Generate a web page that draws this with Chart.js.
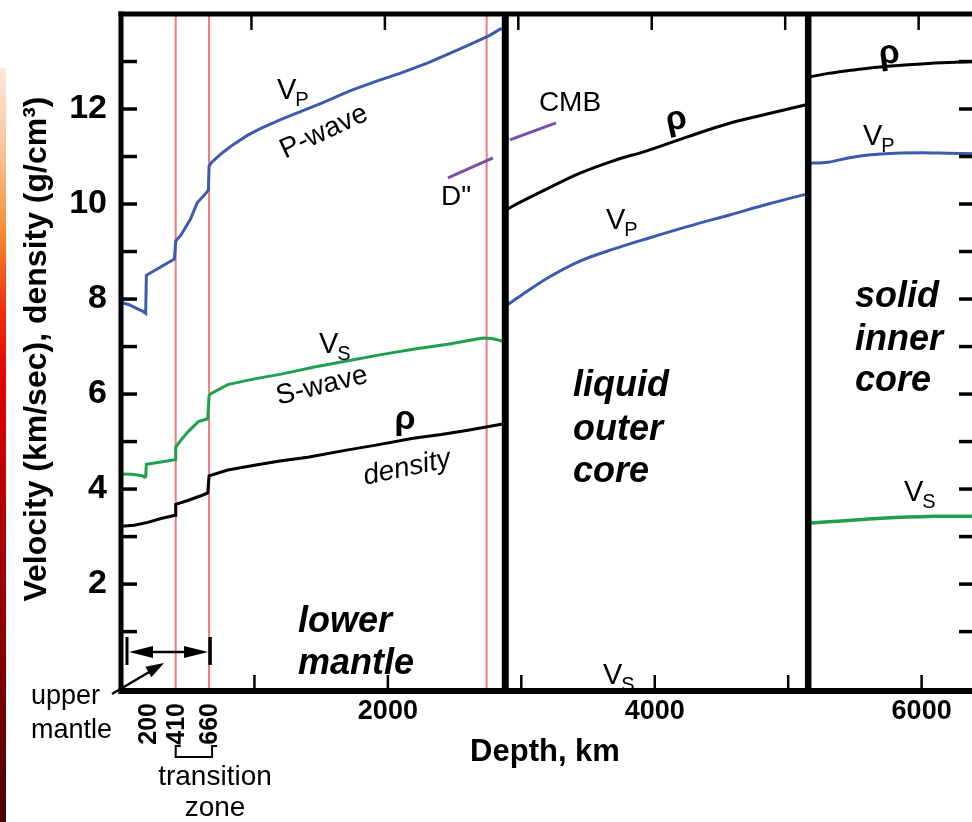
<!DOCTYPE html>
<html>
<head>
<meta charset="utf-8">
<script src="https://cdn.jsdelivr.net/npm/chart.js@4.4.0/dist/chart.umd.min.js"></script>
<style>
  html, body { margin: 0; padding: 0; background: #fff; overflow: hidden; width: 972px; height: 822px; }
  #wrap { position: relative; width: 972px; height: 822px; overflow: hidden; }
  #strip { position: absolute; left: 0; top: 68px; width: 6px; height: 754px; z-index: 2;
    background: linear-gradient(#fbe9df 0%, #f8c090 12%, #f58a30 22%, #f03010 32%, #e00000 42%, #b00000 60%, #800000 80%, #4a0505 100%); }
  canvas { position: absolute; left: 0; top: 0; }
</style>
</head>
<body>
<div id="wrap">
  <div id="strip"></div>
  <canvas id="earth" width="980" height="822"></canvas>
</div>
<script>
// depth in km, velocity in km/s, density in g/cm3

// crust + upper mantle + lower mantle
const vpMantleDepth = [0, 60, 120, 165, 185, 190, 300, 400, 410, 450, 520, 570, 640, 655, 660, 680, 760, 840, 950, 1040, 1200, 1340, 1500, 1715, 1900, 2090, 2300, 2464, 2600, 2764, 2840, 2880];
const vpMantle      = [7.93, 7.88, 7.80, 7.74, 7.70, 8.50, 8.68, 8.84, 9.22, 9.35, 9.68, 10.02, 10.24, 10.30, 10.80, 10.88, 11.08, 11.25, 11.45, 11.58, 11.78, 11.94, 12.12, 12.38, 12.57, 12.75, 12.97, 13.17, 13.34, 13.55, 13.68, 13.70];

const vsMantleDepth = [0, 80, 160, 175, 185, 190, 300, 405, 410, 440, 500, 580, 650, 660, 680, 800, 1000, 1200, 1450, 1700, 1950, 2200, 2450, 2710, 2780, 2880];
const vsMantle      = [4.32, 4.31, 4.28, 4.25, 4.26, 4.52, 4.57, 4.62, 4.88, 5.00, 5.20, 5.42, 5.48, 5.97, 6.02, 6.20, 6.32, 6.42, 6.57, 6.70, 6.83, 6.95, 7.05, 7.18, 7.17, 7.10];

const rhoMantleDepth = [0, 100, 200, 300, 405, 410, 500, 600, 650, 660, 800, 1000, 1190, 1400, 1690, 1900, 2190, 2400, 2600, 2840, 2880];
const rhoMantle      = [3.22, 3.24, 3.30, 3.38, 3.45, 3.68, 3.76, 3.86, 3.92, 4.28, 4.40, 4.50, 4.59, 4.67, 4.82, 4.92, 5.07, 5.15, 5.24, 5.36, 5.38];

// liquid outer core
const outerDepth = [2880, 3000, 3200, 3440, 3700, 3940, 4250, 4560, 4850, 5150];
const rhoOuter   = [9.87, 10.05, 10.33, 10.65, 10.92, 11.12, 11.42, 11.70, 11.90, 12.10];
const vpOuter    = [7.85, 8.08, 8.45, 8.80, 9.06, 9.27, 9.53, 9.77, 10.00, 10.22];

// solid inner core
const innerDepth = [5150, 5300, 5450, 5600, 5800, 6000, 6200, 6400];
const rhoInner   = [12.67, 12.75, 12.81, 12.86, 12.91, 12.95, 12.98, 13.00];
const vpInner    = [10.86, 10.88, 10.97, 11.03, 11.07, 11.08, 11.07, 11.06];
const vsInner    = [3.28, 3.31, 3.34, 3.37, 3.40, 3.42, 3.43, 3.43];

// boundaries and markers
const coreBoundaries = [2880, 5150];          // CMB, ICB
const redLineDepths = [410, 660, 2740];       // 410, 660, top of D''
const dPointerDepth = [2450, 2788];
const dPointerVal   = [10.55, 10.97];
const cmbPointerDepth = [2915, 3260];
const cmbPointerVal   = [11.35, 11.71];

// axes
const depthMin = 0, depthMax = 6400;
const valMin = -0.25, valMax = 14;
const yTickValues = [1, 2, 3, 4, 5, 6, 7, 8, 9, 10, 11, 12, 13];
const yTickLabels = [2, 4, 6, 8, 10, 12];
const xTickValues = [1000, 2000, 3000, 4000, 5000, 6000];
const xTickLabels = [2000, 4000, 6000];
const xExtraLabels = [200, 410, 660];

const BLUE = '#3d5aab', GREEN = '#1f9f4f', BLACK = '#000', RED = '#ef7b7b', PURPLE = '#7b4fa3';
const FONT = '"Liberation Sans", Arial, Helvetica, sans-serif';

function pts(depths, vals) {
  return depths.map((d, i) => ({ x: d, y: vals[i] }));
}

function curve(label, depths, vals, color, width, order, tension) {
  return {
    label: label,
    data: pts(depths, vals),
    borderColor: color,
    borderWidth: width,
    pointRadius: 0,
    showLine: true,
    fill: false,
    tension: tension || 0,
    order: order
  };
}

function vertical(label, depth, color, width, order) {
  return curve(label, [depth, depth], [valMin, valMax], color, width, order);
}

let datasets = [];
redLineDepths.forEach(d => datasets.push(vertical('marker ' + d, d, RED, 2, 20)));
datasets.push(curve('Vp mantle', vpMantleDepth, vpMantle, BLUE, 3, 10));
datasets.push(curve('Vs mantle', vsMantleDepth, vsMantle, GREEN, 3, 10));
datasets.push(curve('rho mantle', rhoMantleDepth, rhoMantle, BLACK, 3, 10));
datasets.push(curve('rho outer', outerDepth, rhoOuter, BLACK, 3, 10, 0.35));
datasets.push(curve('Vp outer', outerDepth, vpOuter, BLUE, 3, 10, 0.35));
datasets.push(curve('rho inner', innerDepth, rhoInner, BLACK, 3, 10, 0.35));
datasets.push(curve('Vp inner', innerDepth, vpInner, BLUE, 3, 10, 0.35));
datasets.push(curve('Vs inner', innerDepth, vsInner, GREEN, 3.5, 10, 0.35));
datasets.push(curve('D" pointer', dPointerDepth, dPointerVal, PURPLE, 3, 10));
datasets.push(curve('CMB pointer', cmbPointerDepth, cmbPointerVal, PURPLE, 3, 10));
datasets.push(vertical('CMB', coreBoundaries[0], BLACK, 7, 0));
datasets.push(vertical('ICB', coreBoundaries[1], BLACK, 6.5, 0));

function text(c, s, x, y, font, align, angle) {
  c.save();
  c.font = font;
  c.fillStyle = '#000';
  c.textAlign = align || 'center';
  c.textBaseline = 'middle';
  c.translate(x, y);
  if (angle) c.rotate(angle * Math.PI / 180);
  c.fillText(s, 0, 0);
  c.restore();
}

// "V" with a subscript, x/y = left edge and baseline of the V
function vsub(c, sub, x, y) {
  c.save();
  c.fillStyle = '#000';
  c.textAlign = 'left';
  c.textBaseline = 'alphabetic';
  c.font = '29px ' + FONT;
  c.fillText('V', x, y);
  const w = c.measureText('V').width;
  c.font = '20px ' + FONT;
  c.fillText(sub, x + w - 1, y + 7);
  c.restore();
}

function arrowHead(c, x, y, ang, len, half) {
  c.save();
  c.translate(x, y);
  c.rotate(ang);
  c.beginPath();
  c.moveTo(0, 0);
  c.lineTo(-len, -half);
  c.lineTo(-len, half);
  c.closePath();
  c.fill();
  c.restore();
}

function line(c, x1, y1, x2, y2, w) {
  c.lineWidth = w;
  c.beginPath();
  c.moveTo(x1, y1);
  c.lineTo(x2, y2);
  c.stroke();
}

const framePlugin = {
  id: 'frame',
  afterDatasetsDraw(chart) {
    const c = chart.ctx;
    const a = chart.chartArea;
    const xs = chart.scales.x, ys = chart.scales.y;
    c.save();
    c.strokeStyle = '#000';
    c.fillStyle = '#000';
    c.lineCap = 'butt';

    // frame
    line(c, a.left, a.top - 2.5, a.left, a.bottom + 3, 5);
    line(c, a.right, a.top - 2.5, a.right, a.bottom + 3, 5);
    line(c, a.left - 2.5, a.top, a.right + 2.5, a.top, 5);
    line(c, a.left - 2.5, a.bottom, a.right + 2.5, a.bottom, 6);

    // inward ticks
    yTickValues.forEach(v => {
      const y = ys.getPixelForValue(v);
      line(c, a.left, y, a.left + 16, y, 3.5);
      line(c, a.right - 16, y, a.right, y, 3.5);
    });
    xTickValues.forEach(d => {
      const x = xs.getPixelForValue(d);
      line(c, x, a.bottom, x, a.bottom - 16, 2.5);
      line(c, x - 3, a.top, x - 3, a.top + 16, 2.5);
    });

    // tick labels
    yTickLabels.forEach(v => {
      text(c, String(v), a.left - 14, ys.getPixelForValue(v), 'bold 34px ' + FONT, 'right');
    });
    xTickLabels.forEach(d => {
      text(c, String(d), xs.getPixelForValue(d), 712, 'bold 27px ' + FONT, 'center');
    });
    xExtraLabels.forEach(d => {
      text(c, String(d), xs.getPixelForValue(d) + 1, 703, 'bold 25px ' + FONT, 'right', -90);
    });

    // axis titles
    text(c, 'Velocity (km/sec), density (g/cm³)', 37, 349, 'bold 32px ' + FONT, 'center', -90);
    text(c, 'Depth, km', 545, 752, 'bold 31px ' + FONT, 'center');

    // curve labels
    vsub(c, 'P', 277, 99);
    text(c, 'P-wave', 324, 132, '28px ' + FONT, 'center', -25);
    vsub(c, 'S', 319, 353);
    text(c, 'S-wave', 322, 386, '28px ' + FONT, 'center', -14);
    text(c, 'ρ', 405, 420, 'bold 34px ' + FONT, 'center');
    text(c, 'density', 407, 468, 'italic 28px ' + FONT, 'center', -12);
    text(c, 'D"', 456, 197, '28px ' + FONT, 'center');
    text(c, 'CMB', 570, 103, '28px ' + FONT, 'center');
    text(c, 'ρ', 676, 120, 'bold 34px ' + FONT, 'center', -12);
    vsub(c, 'P', 606, 229);
    vsub(c, 'S', 603, 684);
    text(c, 'ρ', 889, 54, 'bold 34px ' + FONT, 'center', -8);
    vsub(c, 'P', 863, 145);
    vsub(c, 'S', 904, 501);

    // region labels
    const big = 'italic bold 36px ' + FONT;
    text(c, 'lower', 298, 622, big, 'left');
    text(c, 'mantle', 298, 664, big, 'left');
    text(c, 'liquid', 573, 386, big, 'left');
    text(c, 'outer', 573, 430, big, 'left');
    text(c, 'core', 573, 472, big, 'left');
    text(c, 'solid', 855, 297, big, 'left');
    text(c, 'inner', 855, 340, big, 'left');
    text(c, 'core', 855, 381, big, 'left');

    // upper mantle span arrow
    const x0 = a.left + 6, x660 = xs.getPixelForValue(660);
    line(c, x0, 637, x0, 665, 3);
    line(c, x660 + 1, 637, x660 + 1, 665, 3.5);
    line(c, x0 + 10, 652, x660 - 10, 652, 2.5);
    arrowHead(c, x0 + 2, 652, Math.PI, 24, 6);
    arrowHead(c, x660 - 1, 652, 0, 24, 6);

    // upper mantle pointer
    line(c, 112, 694, 156, 668, 2.5);
    arrowHead(c, 164, 663, -Math.atan2(30, 52), 18, 6);
    text(c, 'upper', 100, 697, '27px ' + FONT, 'right');
    text(c, 'mantle', 112, 731, '27px ' + FONT, 'right');

    // transition zone bracket
    const x410 = xs.getPixelForValue(410);
    c.lineWidth = 2;
    c.beginPath();
    c.moveTo(x410 + 5, 746);
    c.lineTo(x410, 746);
    c.lineTo(x410, 757);
    c.lineTo(x660 + 3, 757);
    c.lineTo(x660 + 3, 746);
    c.lineTo(x660 + 8, 746);
    c.stroke();
    text(c, 'transition', 215, 777, '28px ' + FONT, 'center');
    text(c, 'zone', 215, 808, '28px ' + FONT, 'center');

    c.restore();
  }
};

new Chart(document.getElementById('earth'), {
  type: 'scatter',
  data: { datasets: datasets },
  options: {
    responsive: false,
    animation: false,
    devicePixelRatio: 1,
    events: [],
    layout: { autoPadding: false, padding: { left: 121, top: 14, right: 5, bottom: 131 } },
    scales: {
      x: { type: 'linear', min: depthMin, max: depthMax, display: false },
      y: { type: 'linear', min: valMin, max: valMax, display: false }
    },
    plugins: {
      legend: { display: false },
      tooltip: { enabled: false }
    }
  },
  plugins: [framePlugin]
});
</script>
</body>
</html>
